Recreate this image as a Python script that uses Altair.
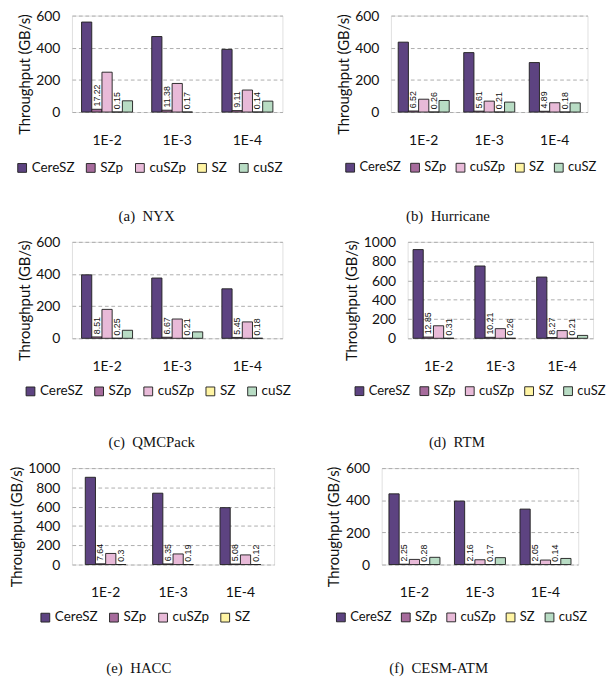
import altair as alt
import pandas as pd

categories = ["1E-2", "1E-3", "1E-4"]
series_names = ["CereSZ", "SZp", "cuSZp", "SZ", "cuSZ"]
series_colors = ["#5d4381", "#a66b9c", "#e8bad8", "#fff4a3", "#b8dcc4"]
labelled = ["SZp", "SZ"]

# (a) NYX
nyx_ceresz = [560, 470, 390]
nyx_szp = [17.22, 11.38, 9.11]
nyx_cuszp = [248, 178, 137]
nyx_sz = [0.15, 0.17, 0.14]
nyx_cusz = [70, None, 68]

# (b) Hurricane
hur_ceresz = [435, 370, 308]
hur_szp = [6.52, 5.61, 4.89]
hur_cuszp = [80, 68, 58]
hur_sz = [0.26, 0.21, 0.18]
hur_cusz = [72, 62, 57]

# (c) QMCPack
qmc_ceresz = [395, 375, 308]
qmc_szp = [8.51, 6.67, 5.45]
qmc_cuszp = [180, 120, 102]
qmc_sz = [0.25, 0.21, 0.18]
qmc_cusz = [50, 40, None]

# (d) RTM
rtm_ceresz = [920, 750, 635]
rtm_szp = [12.85, 10.21, 8.27]
rtm_cuszp = [130, 100, 80]
rtm_sz = [0.31, 0.26, 0.21]
rtm_cusz = [None, None, 30]

# (e) HACC
hacc_ceresz = [905, 740, 590]
hacc_szp = [7.64, 6.35, 5.08]
hacc_cuszp = [115, 110, 100]
hacc_sz = [0.3, 0.19, 0.12]

# (f) CESM-ATM
cesm_ceresz = [440, 395, 345]
cesm_szp = [2.25, 2.16, 2.05]
cesm_cuszp = [32, 30, 28]
cesm_sz = [0.28, 0.17, 0.14]
cesm_cusz = [45, 43, 38]

SANS = "Lato"
SERIF = "Liberation Serif"


def panel(caption, series_values, ymax, ystep, legend_x, legend_y, cap_offset, cap_dx,
          width, leg_font=14.5, leg_pad=10):
    n = len(series_values)
    series = series_names[:n]
    rows = []
    for s, vals in zip(series, series_values):
        for c, v in zip(categories, vals):
            if v is None:
                continue
            rows.append({"cat": c, "series": s, "value": v,
                         "label": str(v) if s in labelled else ""})
    df = pd.DataFrame(rows)

    step = width / 3.0
    pi = 1 - 11.0 * n / step
    x = alt.X("cat:N", sort=categories, title=None,
              scale=alt.Scale(domain=categories, paddingInner=pi, paddingOuter=pi / 2),
              axis=alt.Axis(labelAngle=0, ticks=False, domain=False, labelFont=SANS,
                            labelFontSize=15, labelColor="#111", labelPadding=23,
                            labelBaseline="top"))
    xo = alt.XOffset("series:N", sort=series, scale=alt.Scale(domain=series))
    y = alt.Y("value:Q", scale=alt.Scale(domain=[0, ymax], nice=False),
              axis=alt.Axis(values=list(range(0, ymax + 1, ystep)), format="d", grid=True,
                            gridDash=[4, 3], gridColor="#a8a8a8", gridWidth=1,
                            ticks=False, domain=False, labelFont=SANS, labelFontSize=15,
                            labelColor="#111", labelPadding=13,
                            title="Throughput (GB/s)", titleFont=SANS, titleFontSize=16,
                            titleFontWeight="normal", titleColor="#111", titlePadding=4,
                            titleY=63))
    color = alt.Color("series:N",
                      scale=alt.Scale(domain=series, range=series_colors[:n]),
                      legend=alt.Legend(orient="none", legendX=legend_x, legendY=legend_y,
                                        direction="horizontal", title=None,
                                        symbolType="square", symbolSize=90,
                                        symbolStrokeColor="#222", symbolStrokeWidth=1,
                                        symbolOpacity=1,
                                        labelFont=SANS, labelFontSize=leg_font, labelColor="#111",
                                        labelOffset=3, columnPadding=leg_pad))
    bars = alt.Chart(df).mark_bar(stroke="#222", strokeWidth=1, opacity=1).encode(
        x=x, xOffset=xo, y=y, color=color)
    text = alt.Chart(df).transform_filter("datum.label != ''").mark_text(
        angle=270, align="left", baseline="middle", dx=3, fontSize=9.5,
        font="Liberation Sans", color="#111").encode(
        x=x, xOffset=xo, y=y, text="label:N")
    return alt.layer(bars, text).properties(
        width=width, height=104,
        title=alt.TitleParams(caption, orient="bottom", font=SERIF, fontSize=16,
                              fontWeight="normal", color="#111", anchor="middle",
                              frame="bounds", offset=cap_offset, dx=cap_dx),
    ).resolve_scale(color="independent")


pa = panel("(a)\u00a0\u00a0NYX", [nyx_ceresz, nyx_szp, nyx_cuszp, nyx_sz, nyx_cusz],
           600, 200, -61, 157, 37, -3, 227)
pb = panel("(b)\u00a0\u00a0Hurricane", [hur_ceresz, hur_szp, hur_cuszp, hur_sz, hur_cusz],
           600, 200, -51, 157, 37, -20, 212, 14, 8)
pc = panel("(c)\u00a0\u00a0QMCPack", [qmc_ceresz, qmc_szp, qmc_cuszp, qmc_sz, qmc_cusz],
           600, 200, -52, 154, 40, -3, 227)
pd_ = panel("(d)\u00a0\u00a0RTM", [rtm_ceresz, rtm_szp, rtm_cuszp, rtm_sz, rtm_cusz],
            1000, 200, -59, 154, 40, -20, 200, 14, 8)
pe = panel("(e)\u00a0\u00a0HACC", [hacc_ceresz, hacc_szp, hacc_cuszp, hacc_sz],
           1000, 200, -36, 154, 40, -3, 218)
pf = panel("(f)\u00a0\u00a0CESM-ATM", [cesm_ceresz, cesm_szp, cesm_cuszp, cesm_sz, cesm_cusz],
           600, 200, -51, 154, 40, -20, 212, 14, 8)

row1 = alt.hconcat(pa, pb, spacing=55).resolve_scale(color="independent").resolve_legend(color="independent")
row2 = alt.hconcat(pc, pd_, spacing=55).resolve_scale(color="independent").resolve_legend(color="independent")
row3 = alt.hconcat(pe, pf, spacing=55).resolve_scale(color="independent").resolve_legend(color="independent")

chart = alt.vconcat(row1, row2, row3, spacing=11).resolve_scale(
    color="independent").resolve_legend(color="independent").properties(
    padding={"left": 0, "top": -27, "right": 0, "bottom": 0}
).configure_view(stroke="#333", strokeWidth=1).configure(background="white")

chart.save("out.html", embed_options={"renderer": "svg", "actions": False})
